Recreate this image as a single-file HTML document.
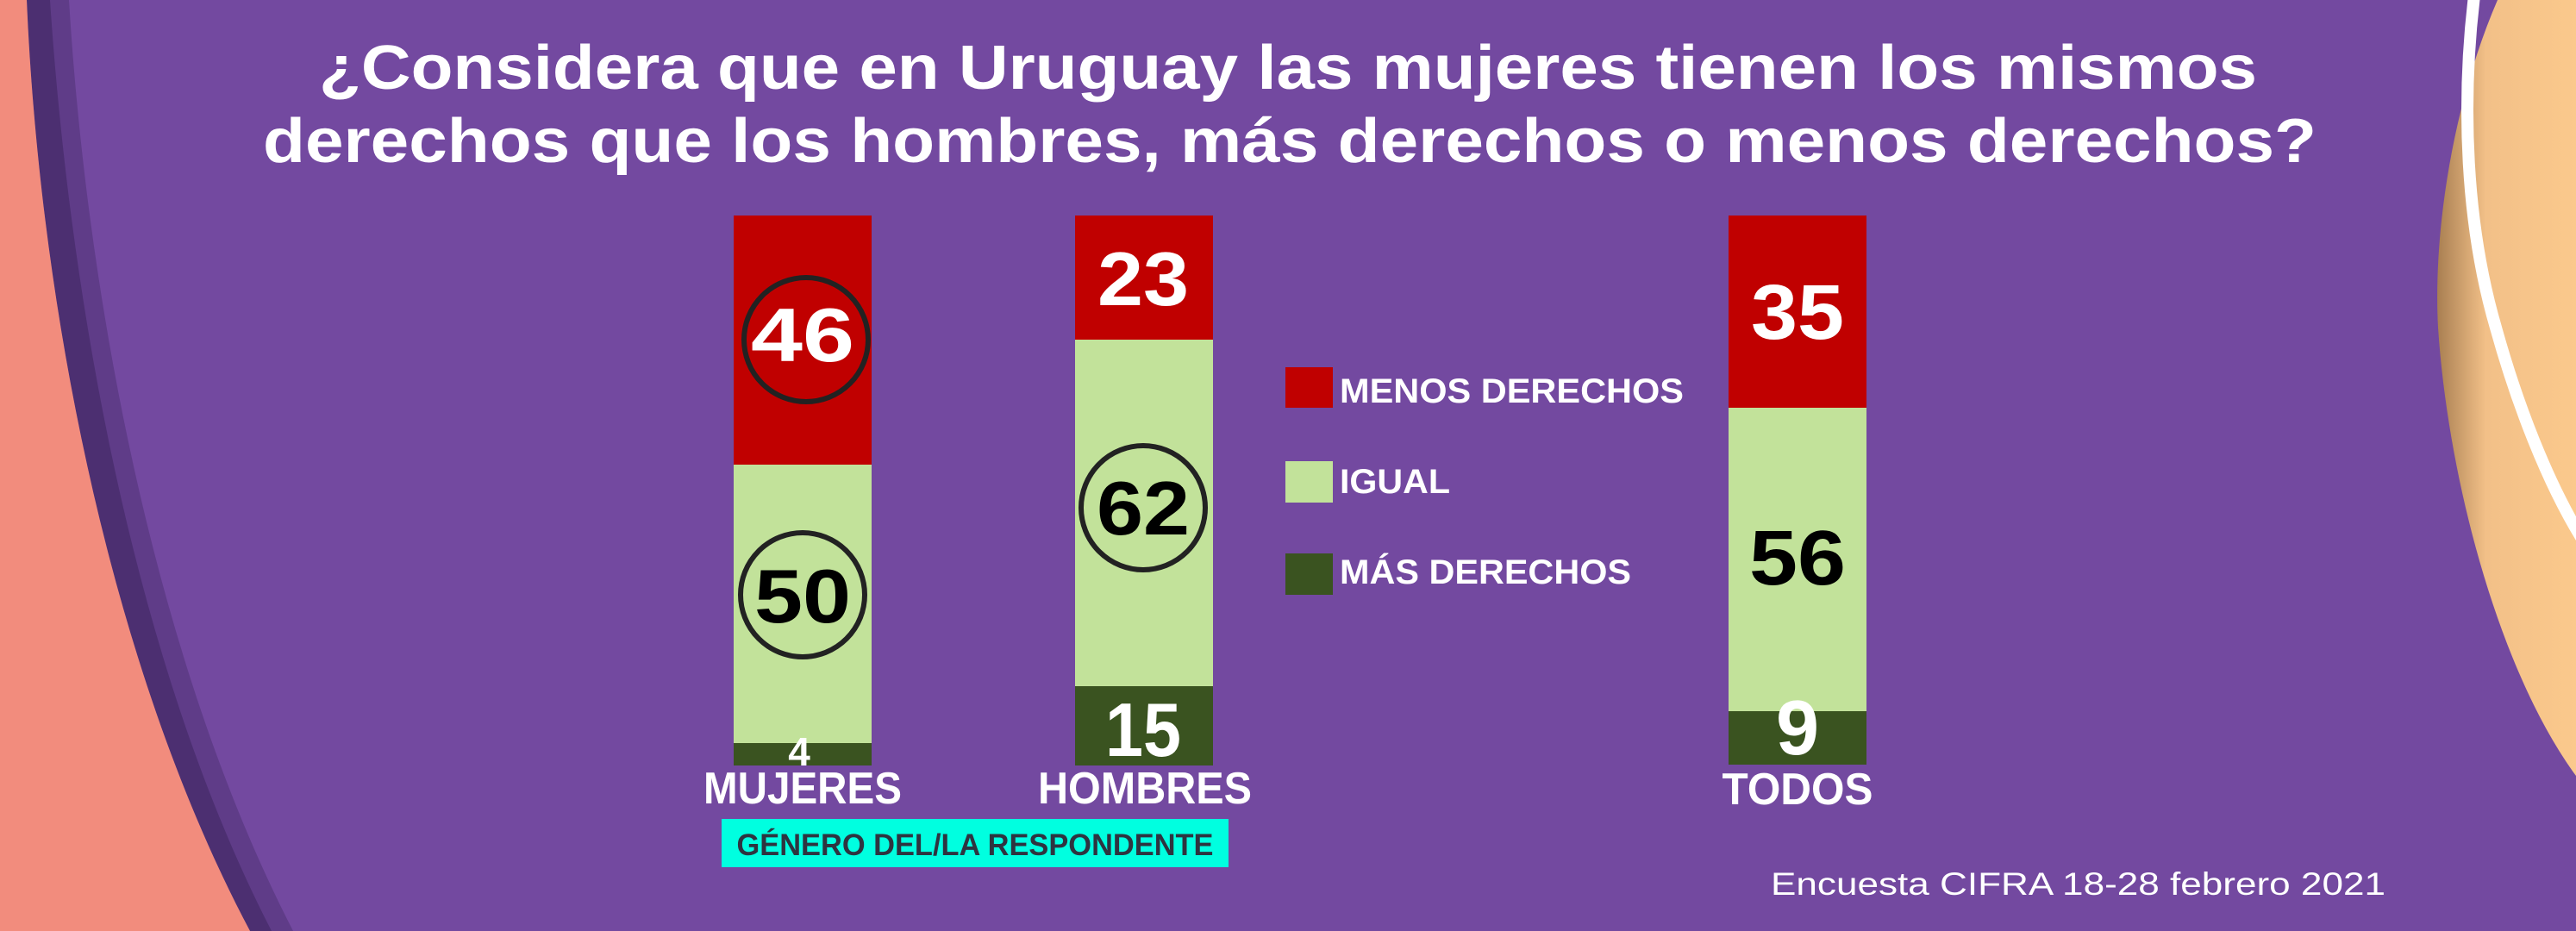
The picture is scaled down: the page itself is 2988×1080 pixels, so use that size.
<!DOCTYPE html>
<html><head><meta charset="utf-8"><style>
html,body{margin:0;padding:0;background:#7349a0;}
svg{display:block;}
text{font-family:"Liberation Sans",sans-serif;font-weight:bold;}
</style></head><body>
<svg width="2988" height="1080" viewBox="0 0 2988 1080" xmlns="http://www.w3.org/2000/svg">
<defs>
<linearGradient id="pk" x1="0" x2="1" y1="0" y2="0">
<stop offset="0" stop-color="#a97f52"/><stop offset="0.35" stop-color="#f2c088"/><stop offset="1" stop-color="#fbc98c"/>
</linearGradient>
</defs>
<rect width="2988" height="1080" fill="#7349a0"/>
<!-- left salmon + shadow -->
<path d="M31,0 C45,330 120,760 290,1080 L340,1080 C175,760 100,330 80,0 Z" fill="#4f3275" opacity="0.55"/>
<path d="M31,0 C45,330 120,760 290,1080 L315,1080 C150,760 80,330 58,0 Z" fill="#3f2763" opacity="0.6"/>
<path d="M0,0 L31,0 C45,330 120,760 290,1080 L0,1080 Z" fill="#f28c7d"/>
<!-- right peach -->
<path d="M2897,0 C2845,120 2822,270 2828,380 C2840,560 2900,780 2988,900 L2988,0 Z" fill="url(#pk)"/>
<path d="M2870,-5 C2855,120 2860,260 2895,380 C2920,470 2955,560 2995,625" fill="none" stroke="#fff" stroke-width="14"/>
<!-- title -->
<text x="1494" y="103" font-size="72" fill="#fff" text-anchor="middle" textLength="2248" lengthAdjust="spacingAndGlyphs">¿Considera que en Uruguay las mujeres tienen los mismos</text>
<text x="1496" y="188" font-size="72" fill="#fff" text-anchor="middle" textLength="2382" lengthAdjust="spacingAndGlyphs">derechos que los hombres, más derechos o menos derechos?</text>
<!-- Mujeres -->
<rect x="851" y="250" width="160" height="289" fill="#c00000"/>
<rect x="851" y="539" width="160" height="323" fill="#c2e29a"/>
<rect x="851" y="862" width="160" height="26" fill="#3a5320"/>
<circle cx="935" cy="394" r="72" fill="none" stroke="#222" stroke-width="6"/>
<text x="931" y="419" font-size="88" fill="#fff" text-anchor="middle" textLength="120" lengthAdjust="spacingAndGlyphs">46</text>
<circle cx="931" cy="690" r="72" fill="none" stroke="#222" stroke-width="6"/>
<text x="931" y="722" font-size="88" fill="#000" text-anchor="middle" textLength="112" lengthAdjust="spacingAndGlyphs">50</text>
<text x="927" y="888" font-size="46" fill="#fff" text-anchor="middle">4</text>
<text x="931" y="932" font-size="52" fill="#fff" text-anchor="middle" textLength="230" lengthAdjust="spacingAndGlyphs">MUJERES</text>
<!-- Hombres -->
<rect x="1247" y="250" width="160" height="144" fill="#c00000"/>
<rect x="1247" y="394" width="160" height="402" fill="#c2e29a"/>
<rect x="1247" y="796" width="160" height="92" fill="#3a5320"/>
<text x="1326" y="354" font-size="88" fill="#fff" text-anchor="middle" textLength="106" lengthAdjust="spacingAndGlyphs">23</text>
<circle cx="1326" cy="589" r="72" fill="none" stroke="#222" stroke-width="6"/>
<text x="1326" y="620" font-size="88" fill="#000" text-anchor="middle" textLength="108" lengthAdjust="spacingAndGlyphs">62</text>
<text x="1326" y="877" font-size="88" fill="#fff" text-anchor="middle" textLength="88" lengthAdjust="spacingAndGlyphs">15</text>
<text x="1328" y="932" font-size="52" fill="#fff" text-anchor="middle" textLength="248" lengthAdjust="spacingAndGlyphs">HOMBRES</text>
<!-- Todos -->
<rect x="2005" y="250" width="160" height="223" fill="#c00000"/>
<rect x="2005" y="473" width="160" height="352" fill="#c2e29a"/>
<rect x="2005" y="825" width="160" height="62" fill="#3a5320"/>
<text x="2085" y="393" font-size="90" fill="#fff" text-anchor="middle" textLength="108" lengthAdjust="spacingAndGlyphs">35</text>
<text x="2085" y="678" font-size="90" fill="#000" text-anchor="middle" textLength="112" lengthAdjust="spacingAndGlyphs">56</text>
<text x="2085" y="875" font-size="90" fill="#fff" text-anchor="middle">9</text>
<text x="2085" y="933" font-size="52" fill="#fff" text-anchor="middle" textLength="175" lengthAdjust="spacingAndGlyphs">TODOS</text>
<!-- legend -->
<rect x="1491" y="426" width="55" height="47" fill="#c00000"/>
<rect x="1491" y="535" width="55" height="48" fill="#c2e29a"/>
<rect x="1491" y="642" width="55" height="48" fill="#3a5320"/>
<text x="1554" y="467" font-size="40" fill="#fff" textLength="399" lengthAdjust="spacingAndGlyphs">MENOS DERECHOS</text>
<text x="1554" y="572" font-size="40" fill="#fff" textLength="128" lengthAdjust="spacingAndGlyphs">IGUAL</text>
<text x="1554" y="677" font-size="40" fill="#fff" textLength="338" lengthAdjust="spacingAndGlyphs">MÁS DERECHOS</text>
<!-- genero box -->
<rect x="837" y="950" width="588" height="56" fill="#00ffe0"/>
<text x="1131" y="992" font-size="35" fill="#2e3440" text-anchor="middle" textLength="553" lengthAdjust="spacingAndGlyphs">GÉNERO DEL/LA RESPONDENTE</text>
<!-- footer -->
<text x="2054" y="1038" font-size="37" fill="#fff" style="font-weight:normal" textLength="713" lengthAdjust="spacingAndGlyphs">Encuesta CIFRA 18-28 febrero 2021</text>
</svg>
</body></html>
